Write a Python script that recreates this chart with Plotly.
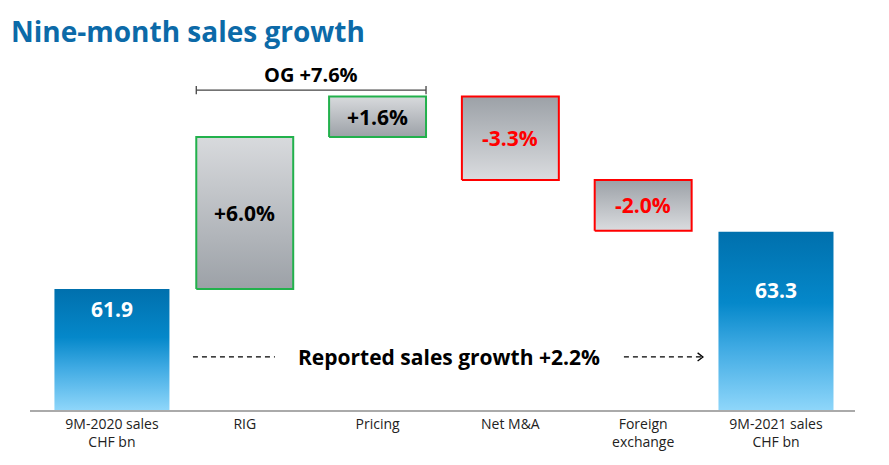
import plotly.graph_objects as go

# ---- data ----
categories = ["9M-2020 sales<br>CHF bn", "RIG", "Pricing", "Net M&A", "Foreign<br>exchange", "9M-2021 sales<br>CHF bn"]
start_sales = 61.9          # CHF bn
end_sales = 63.3            # CHF bn
step_names = ["RIG", "Pricing", "Net M&A", "Foreign exchange"]
step_pct = [6.0, 1.6, -3.3, -2.0]   # % growth contributions
og_pct = 7.6
reported_pct = 2.2

# ---- styling ----
FONT = "Open Sans"
AXIS_FLOOR = 58.944
AXIS_TOP = 67.495
BLUE_SCALE = [[0, "#8ED6FA"], [0.35, "#3FAAE3"], [0.6, "#0588CA"], [1, "#0070AD"]]
GREY_UP = [[0, "#9CA1A7"], [1, "#D8DADD"]]
GREY_DOWN = [[0, "#DADCDF"], [1, "#9CA1A7"]]
GREEN = "#22B14C"
RED = "#FF0000"
HW_TOTAL = 0.433
HW_STEP = 0.365

fig = go.Figure()


def rect(xc, hw, y0, y1, scale, line_color=None):
    lo, hi = min(y0, y1), max(y0, y1)
    fig.add_trace(go.Scatter(
        x=[xc - hw, xc + hw, xc + hw, xc - hw, xc - hw],
        y=[lo, lo, hi, hi, lo],
        mode="lines", fill="toself",
        fillgradient=dict(type="vertical", colorscale=scale, start=lo, stop=hi),
        line=dict(color=line_color if line_color else "rgba(0,0,0,0)",
                  width=2 if line_color else 0),
        hoverinfo="skip", showlegend=False,
    ))


annotations = []

# start total
rect(0, HW_TOTAL, AXIS_FLOOR, start_sales, BLUE_SCALE)
annotations.append(dict(x=0, y=start_sales, text=f"<b>{start_sales:.1f}</b>", showarrow=False,
                        yanchor="middle", yshift=-20, font=dict(size=21, color="white", family=FONT)))

# steps
level = start_sales
for i, p in enumerate(step_pct):
    delta = p / 100 * start_sales
    y0, y1 = level, level + delta
    xc = i + 1
    up = p >= 0
    rect(xc, HW_STEP, y0, y1, GREY_UP if up else GREY_DOWN, GREEN if up else RED)
    annotations.append(dict(x=xc, y=(y0 + y1) / 2, text=f"<b>{p:+.1f}%</b>", showarrow=False,
                            font=dict(size=21, color="#000000" if up else RED, family=FONT)))
    level = y1

# end total
rect(5, HW_TOTAL, AXIS_FLOOR, end_sales, BLUE_SCALE)
annotations.append(dict(x=5, y=end_sales, text=f"<b>{end_sales:.1f}</b>", showarrow=False,
                        yanchor="middle", yshift=-58, font=dict(size=21, color="white", family=FONT)))

# OG bracket
br_y = 66.76
bx0, bx1 = 1 - HW_STEP, 2 + HW_STEP
shapes = [
    dict(type="line", x0=bx0, x1=bx1, y0=br_y, y1=br_y, line=dict(color="#444444", width=1.3)),
    dict(type="line", x0=bx0, x1=bx0, y0=br_y - 0.1, y1=br_y + 0.1, line=dict(color="#444444", width=1.3)),
    dict(type="line", x0=bx1, x1=bx1, y0=br_y - 0.1, y1=br_y + 0.1, line=dict(color="#444444", width=1.3)),
]
annotations.append(dict(x=(bx0 + bx1) / 2, y=br_y, text=f"<b>OG +{og_pct:.1f}%</b>", showarrow=False,
                        yanchor="bottom", yshift=0, font=dict(size=20, color="#000000", family=FONT)))

# reported growth line
rep_y = 60.24
shapes += [
    dict(type="line", x0=0.61, x1=1.227, y0=rep_y, y1=rep_y, line=dict(color="#000000", width=1.3, dash="5px,4px")),
    dict(type="line", x0=3.855, x1=4.45, y0=rep_y, y1=rep_y, line=dict(color="#000000", width=1.3, dash="5px,4px")),
    dict(type="path", path=f"M {4.41} {rep_y + 0.1} L {4.45} {rep_y} L {4.41} {rep_y - 0.1}",
         line=dict(color="#000000", width=1.3)),
]
annotations.append(dict(x=2.54, y=rep_y, text=f"<b>Reported sales growth +{reported_pct:.1f}%</b>",
                        showarrow=False, font=dict(size=21, color="#000000", family=FONT)))

# title
annotations.append(dict(xref="paper", yref="paper", x=-21 / 825, y=1, yshift=29, xanchor="left",
                        yanchor="middle", text="<b>Nine-month sales growth</b>", showarrow=False,
                        font=dict(size=28, color="#0C6AA8", family=FONT)))

fig.update_layout(
    width=881, height=457,
    margin=dict(l=22, r=34, t=52, b=55),
    plot_bgcolor="white", paper_bgcolor="white",
    showlegend=False,
    shapes=shapes,
    annotations=annotations,
    xaxis=dict(range=[-0.617, 5.595], tickvals=list(range(len(categories))), ticktext=categories,
               showgrid=False, zeroline=False, showline=True, linecolor="#AAAAAA", linewidth=2,
               ticks="", tickfont=dict(size=14, color="#222222", family=FONT), fixedrange=True),
    yaxis=dict(range=[AXIS_FLOOR, AXIS_TOP], visible=False, showgrid=False, zeroline=False, fixedrange=True),
)

fig.write_html("out.html")
